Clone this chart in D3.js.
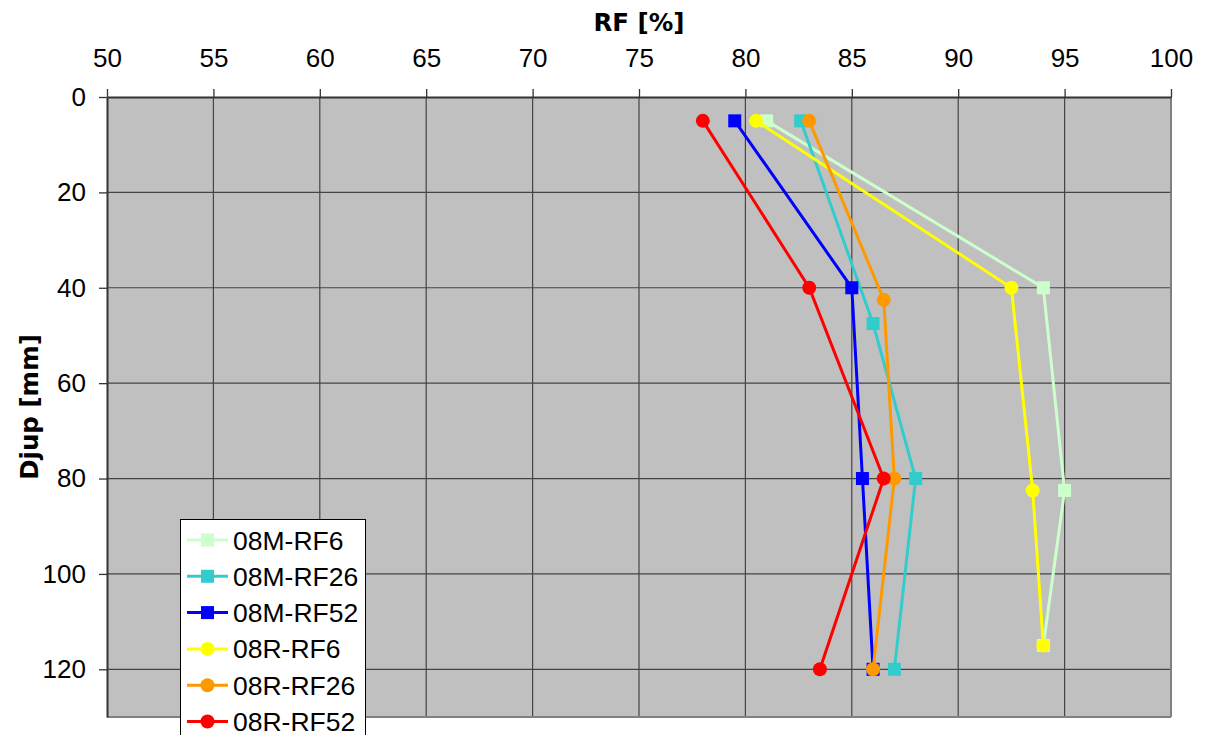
<!DOCTYPE html>
<html><head><meta charset="utf-8">
<script src="https://cdn.jsdelivr.net/npm/d3@7"></script>
<style>body{margin:0;background:#fff;}svg{display:block;font-family:"Liberation Sans",Arial,sans-serif;}</style>
</head><body><svg id="c" width="1206" height="735"></svg>
<script>
const xTicks = [50,55,60,65,70,75,80,85,90,95,100];
const yTicks = [0,20,40,60,80,100,120];
const seriesNames = ["08M-RF6","08M-RF26","08M-RF52","08R-RF6","08R-RF26","08R-RF52"];
const seriesColors = ["#ccffcc","#33cccc","#0000ff","#ffff00","#ff9900","#ff0000"];
const seriesShapes = ["square","square","square","circle","circle","circle"];
const rf_08M_RF6  = [81.0, 94.0, 95.0, 94.0];
const dep_08M_RF6 = [5, 40, 82.5, 115];
const rf_08M_RF26  = [82.6, 86.0, 88.0, 87.0];
const dep_08M_RF26 = [5, 47.5, 80, 120];
const rf_08M_RF52  = [79.5, 85.0, 85.5, 86.0];
const dep_08M_RF52 = [5, 40, 80, 120];
const rf_08R_RF6  = [80.5, 92.5, 93.5, 94.0];
const dep_08R_RF6 = [5, 40, 82.5, 115];
const rf_08R_RF26  = [83.0, 86.5, 87.0, 86.0];
const dep_08R_RF26 = [5, 42.5, 80, 120];
const rf_08R_RF52  = [78.0, 83.0, 86.5, 83.5];
const dep_08R_RF52 = [5, 40, 80, 120];
const rfs = [rf_08M_RF6, rf_08M_RF26, rf_08M_RF52, rf_08R_RF6, rf_08R_RF26, rf_08R_RF52];
const deps = [dep_08M_RF6, dep_08M_RF26, dep_08M_RF52, dep_08R_RF6, dep_08R_RF26, dep_08R_RF52];

const svg = d3.select("#c");
const L = 107, R = 1171, T = 97, B = 717;
const x = d3.scaleLinear().domain([50,100]).range([L,R]);
const y = d3.scaleLinear().domain([0,130]).range([T,B]);

svg.append("rect").attr("x",L).attr("y",T).attr("width",R-L).attr("height",B-T).attr("fill","#c0c0c0");

// grid
svg.append("g").selectAll("line").data(xTicks.slice(1,-1)).join("line")
  .attr("x1",d=>x(d)).attr("x2",d=>x(d)).attr("y1",T).attr("y2",B)
  .attr("stroke","#444").attr("stroke-width",1.2);
svg.append("g").selectAll("line").data(yTicks.slice(1)).join("line")
  .attr("x1",L).attr("x2",R).attr("y1",d=>y(d)).attr("y2",d=>y(d))
  .attr("stroke","#444").attr("stroke-width",1.2);

// border
svg.append("line").attr("x1",L).attr("x2",R).attr("y1",B).attr("y2",B).attr("stroke","#808080").attr("stroke-width",2);
svg.append("line").attr("x1",R).attr("x2",R).attr("y1",T).attr("y2",B).attr("stroke","#808080").attr("stroke-width",2);

// axes
const xAxis = d3.axisTop(x).tickValues(xTicks).tickSize(8).tickPadding(22).tickSizeOuter(0);
const gx = svg.append("g").attr("transform",`translate(0,${T})`).call(xAxis);
gx.select(".domain").attr("stroke","#333").attr("stroke-width",2);
gx.selectAll(".tick line").attr("stroke","#333").attr("stroke-width",1.3);
gx.selectAll("text").attr("font-size",26).attr("fill","#000").style("font-family","Liberation Sans, Arial");

const yAxis = d3.axisLeft(y).tickValues(yTicks).tickSize(8).tickPadding(13).tickSizeOuter(0);
const gy = svg.append("g").attr("transform",`translate(${L},0)`).call(yAxis);
gy.select(".domain").attr("stroke","#333").attr("stroke-width",2);
gy.selectAll(".tick line").attr("stroke","#333").attr("stroke-width",1.3);
gy.selectAll("text").attr("font-size",26).attr("fill","#000").style("font-family","Liberation Sans, Arial");

// titles
svg.append("text").attr("x",(L+R)/2).attr("y",31).attr("text-anchor","middle")
  .style("font-family","DejaVu Sans").attr("font-size",24.5).attr("font-weight","bold").text("RF [%]");
svg.append("text").attr("transform",`translate(38,${(T+B)/2}) rotate(-90)`).attr("text-anchor","middle")
  .style("font-family","DejaVu Sans").attr("font-size",24.5).attr("font-weight","bold").text("Djup [mm]");

// series
const line = d3.line().x(d=>x(d[0])).y(d=>y(d[1]));
function marker(g, shape, color, cx, cy){
  if(shape==="square"){
    g.append("rect").attr("x",cx-6.5).attr("y",cy-6.5).attr("width",13).attr("height",13).attr("fill",color);
  } else {
    g.append("circle").attr("cx",cx).attr("cy",cy).attr("r",7).attr("fill",color);
  }
}
seriesNames.forEach((n,i)=>{
  const pts = rfs[i].map((v,j)=>[v,deps[i][j]]);
  const g = svg.append("g");
  g.append("path").attr("d",line(pts)).attr("fill","none").attr("stroke",seriesColors[i]).attr("stroke-width",3);
  pts.forEach(p=>marker(g, seriesShapes[i], seriesColors[i], x(p[0]), y(p[1])));
});

// legend
const lg = svg.append("g");
lg.append("rect").attr("x",180.5).attr("y",519.5).attr("width",185).attr("height",230)
  .attr("fill","#fff").attr("stroke","#000").attr("stroke-width",1);
seriesNames.forEach((n,i)=>{
  const cy = 540 + i*36.3;
  lg.append("line").attr("x1",187).attr("x2",228).attr("y1",cy).attr("y2",cy)
    .attr("stroke",seriesColors[i]).attr("stroke-width",3);
  marker(lg, seriesShapes[i], seriesColors[i], 207.5, cy);
  lg.append("text").attr("x",233).attr("y",cy+9.5).attr("font-size",26.5).text(n);
});
</script></body></html>
